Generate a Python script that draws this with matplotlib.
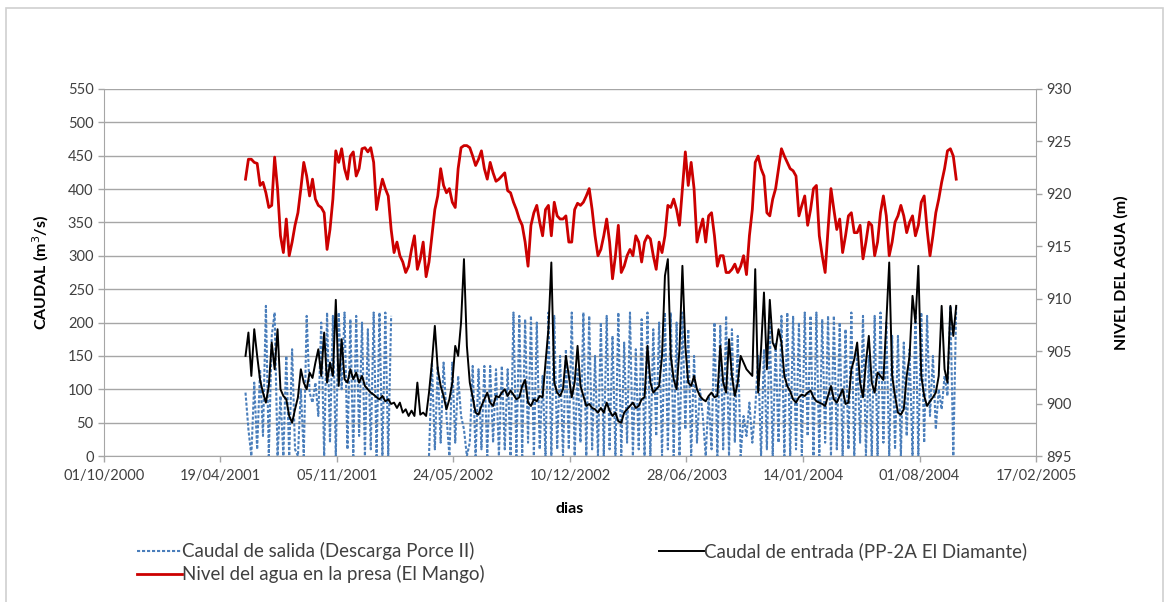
import matplotlib
matplotlib.use("Agg")
import matplotlib.pyplot as plt
import matplotlib.dates as mdates
import numpy as np
import pandas as pd

# ---------------------------------------------------------------------------
# Data, one reading every 5 days
# ---------------------------------------------------------------------------
START = "2001-06-01"

# water level at the dam, El Mango (m)
nivel = [
    921.4, 923.3, 923.3, 923.0, 922.9, 920.8, 921.1, 920.1, 918.7, 918.9,
    923.5, 920.5, 916.0, 914.4, 917.6, 914.1, 915.4, 917.0, 918.2, 920.5,
    923.0, 921.7, 919.8, 921.4, 919.5, 918.9, 918.7, 918.2, 914.7, 916.6,
    919.5, 924.1, 923.0, 924.3, 922.4, 921.4, 923.6, 924.0, 921.7, 922.4,
    924.3, 924.4, 924.0, 924.4, 923.0, 918.5, 920.1, 921.4, 920.5, 919.8,
    916.6, 914.4, 915.4, 914.1, 913.5, 912.5, 913.1, 914.7, 916.0, 912.8,
    913.8, 915.4, 912.1, 913.5, 916.0, 918.5, 919.8, 922.4, 920.8, 920.1,
    920.5, 919.2, 918.7, 922.4, 924.4, 924.6, 924.6, 924.4, 923.6, 922.7,
    923.3, 924.1, 922.4, 921.4, 923.0, 922.0, 921.2, 921.4, 921.7, 922.0,
    920.3, 920.1, 919.2, 918.5, 917.6, 917.0, 915.4, 913.1, 917.0, 918.2,
    918.9, 917.3, 916.0, 918.5, 918.9, 916.0, 919.2, 917.9, 917.6, 917.6,
    917.9, 915.4, 915.4, 918.5, 919.1, 918.9, 919.2, 919.8, 920.5, 918.5,
    916.0, 914.1, 914.7, 916.0, 917.6, 915.4, 911.9, 914.1, 917.0, 912.5,
    913.1, 914.1, 914.7, 914.1, 916.0, 915.4, 913.5, 915.4, 916.0, 915.7,
    914.1, 912.8, 915.4, 914.4, 916.0, 918.9, 918.7, 919.5, 918.5, 917.0,
    920.5, 924.0, 920.8, 923.0, 920.5, 915.4, 916.6, 917.6, 915.4, 917.9,
    918.2, 916.0, 913.1, 914.1, 914.1, 912.5, 912.5, 912.8, 913.3, 912.5,
    913.1, 914.1, 912.3, 916.0, 918.5, 923.0, 923.6, 922.4, 921.7, 918.2,
    917.9, 919.5, 920.5, 922.4, 924.3, 923.6, 923.0, 922.4, 922.2, 921.7,
    917.9, 918.9, 919.8, 917.0, 918.5, 920.5, 920.8, 916.0, 914.1, 912.5,
    916.6, 920.5, 918.5, 916.6, 917.6, 914.4, 916.0, 917.9, 918.2, 916.3,
    916.3, 917.0, 913.8, 915.4, 917.3, 917.0, 914.1, 915.4, 918.2, 919.8,
    917.9, 914.1, 915.4, 917.3, 917.9, 918.9, 917.9, 916.3, 917.3, 917.9,
    916.0, 917.0, 919.2, 919.8, 916.6, 914.1, 916.0, 918.2, 919.5, 921.1,
    922.4, 924.1, 924.3, 923.6, 921.4,
]

# inflow, PP-2A El Diamante (m3/s)
entrada = [
    150, 185, 120, 190, 150, 114, 95, 80, 105, 170,
    130, 190, 100, 90, 85, 60, 50, 70, 88, 130,
    110, 100, 125, 117, 140, 160, 120, 185, 110, 140,
    120, 234, 105, 175, 115, 110, 130, 115, 125, 110,
    120, 105, 100, 95, 92, 88, 85, 90, 82, 85,
    78, 80, 72, 80, 65, 70, 60, 68, 60, 110,
    62, 65, 60, 95, 140, 195, 130, 105, 90, 70,
    85, 110, 165, 150, 200, 295, 165, 110, 88, 65,
    62, 75, 85, 95, 80, 75, 90, 88, 95, 100,
    90, 98, 92, 85, 88, 105, 114, 80, 75, 85,
    82, 90, 88, 140, 190, 290, 110, 95, 90, 100,
    150, 120, 88, 110, 165, 105, 90, 75, 78, 72,
    70, 65, 72, 65, 80, 68, 60, 65, 52, 50,
    65, 70, 75, 80, 72, 75, 85, 88, 165, 110,
    95, 100, 105, 150, 270, 295, 150, 115, 100, 160,
    285, 165, 110, 105, 120, 100, 90, 85, 82, 90,
    95, 88, 90, 165, 110, 95, 175, 120, 90, 110,
    150, 140, 130, 125, 120, 280, 95, 160, 245, 130,
    234, 170, 160, 190, 170, 120, 105, 97, 85, 80,
    88, 92, 90, 95, 98, 88, 82, 80, 78, 75,
    90, 105, 85, 80, 90, 100, 78, 80, 130, 145,
    170, 110, 88, 140, 180, 110, 95, 125, 120, 114,
    200, 290, 120, 90, 65, 62, 70, 120, 150, 240,
    200, 285, 120, 90, 75, 82, 88, 95, 120, 225,
    130, 110, 225, 180, 225,
]

# outflow, Porce II discharge (m3/s)
salida = [
    95, 40, 0, 110, 10, 130, 30, 225, 0, 180,
    215, 0, 90, 0, 150, 0, 160, 10, 0, 100,
    0, 210, 95, 80, 110, 60, 200, 0, 215, 20,
    210, 0, 215, 100, 215, 10, 205, 0, 210, 30,
    200, 0, 190, 10, 215, 0, 215, 0, 215, 0,
    210, np.nan, np.nan, np.nan, np.nan, np.nan, np.nan, np.nan, np.nan, np.nan,
    np.nan, np.nan, np.nan, 0, 140, 10, 135, 20, 140, 60,
    0, 140, 20, 120, 60, 40, 0, 20, 135, 0,
    130, 10, 135, 0, 135, 20, 130, 0, 135, 10,
    130, 0, 215, 0, 210, 0, 205, 20, 210, 0,
    200, 10, 120, 0, 215, 0, 210, 10, 150, 0,
    160, 10, 215, 0, 130, 20, 215, 0, 210, 10,
    150, 0, 200, 0, 210, 10, 180, 0, 215, 0,
    170, 20, 215, 0, 160, 10, 205, 0, 215, 0,
    190, 30, 200, 0, 215, 10, 215, 0, 200, 0,
    215, 40, 190, 0, 150, 20, 100, 60, 0, 90,
    10, 200, 0, 195, 10, 210, 0, 190, 20, 180,
    0, 60, 30, 80, 20, 70, 150, 0, 160, 10,
    200, 0, 170, 20, 210, 0, 215, 0, 210, 10,
    200, 0, 215, 30, 210, 0, 215, 0, 205, 20,
    210, 0, 210, 10, 200, 0, 190, 10, 215, 0,
    160, 20, 210, 0, 150, 0, 210, 0, 215, 20,
    200, 0, 180, 10, 180, 0, 170, 30, 160, 0,
    215, 0, 215, 20, 210, 60, 150, 40, 100, 70,
    120, 90, 225, 0, 225,
]

dias = pd.date_range(START, periods=len(nivel), freq="5D")

X_START = pd.Timestamp("2000-10-01")
X_END = pd.Timestamp("2005-02-17")
x_ticks = pd.date_range(X_START, X_END, freq="200D")
left_ticks = list(range(0, 551, 50))
right_ticks = list(range(895, 931, 5))

# ---------------------------------------------------------------------------
# Style
# ---------------------------------------------------------------------------
plt.rcParams["font.family"] = ["Lato", "DejaVu Sans"]
C_BLUE = "#4A7EBB"
C_BLACK = "#000000"
C_RED = "#CC0000"
C_GRID = "#A6A6A6"
C_TEXT = "#404040"

fig = plt.figure(figsize=(11.68, 6.02), dpi=100)
ax = fig.add_axes([0.089, 0.2425, 0.798, 0.6097])
ax2 = ax.twinx()

ax.plot(dias, salida, color=C_BLUE, lw=1.5, ls=(0, (1.5, 0.9)),
        label="Caudal de salida (Descarga Porce II)")
ax.plot(dias, entrada, color=C_BLACK, lw=1.4,
        label="Caudal de entrada (PP-2A El Diamante)")
ax2.plot(dias, nivel, color=C_RED, lw=2.0,
         label="Nivel del agua en la presa (El Mango)")

ax.set_xlim(X_START, X_END)
ax.set_ylim(0, 550)
ax2.set_ylim(895, 930)
ax.set_xticks(x_ticks)
ax.xaxis.set_major_formatter(mdates.DateFormatter("%d/%m/%Y"))
ax.set_yticks(left_ticks)
ax2.set_yticks(right_ticks)

ax.yaxis.grid(True, color=C_GRID, lw=1.0)
ax.set_axisbelow(True)

for a in (ax, ax2):
    a.spines["top"].set_visible(False)
    a.tick_params(colors=C_GRID, labelcolor=C_TEXT, labelsize=10.5,
                  length=4, width=1)
ax.spines["right"].set_visible(False)
ax2.spines["left"].set_visible(False)
ax2.spines["bottom"].set_visible(False)
ax.spines["left"].set_color(C_GRID)
ax.spines["bottom"].set_color(C_GRID)
ax2.spines["right"].set_color(C_GRID)
ax.tick_params(axis="x", pad=5)

ax.set_ylabel("CAUDAL (m$^3$/s)", fontsize=11.5, fontweight="bold",
              color="#000000", labelpad=12)
ax2.set_ylabel("NIVEL DEL AGUA (m)", fontsize=11.5, fontweight="bold",
               color="#000000", labelpad=30)
ax.set_xlabel("dias", fontsize=11.5, fontweight="bold", color="#000000",
              labelpad=14)

handles = ax.get_lines() + ax2.get_lines()
order = [handles[0], handles[2], handles[1]]
fig.legend(handles=order, labels=[h.get_label() for h in order],
           loc="upper left", bbox_to_anchor=(0.103, 0.127), ncol=2,
           frameon=False, fontsize=13.5, handlelength=2.4, handletextpad=0.0,
           columnspacing=9.3, labelspacing=0.25, labelcolor=C_TEXT)

# chart frame
fig.add_artist(plt.Rectangle((6 / 1168, -0.1), (1163 - 6) / 1168, 1.1 - 8 / 602,
                             transform=fig.transFigure, fill=False,
                             edgecolor="#D0D0D0", lw=1.2))

fig.savefig("out.png", dpi=100)
